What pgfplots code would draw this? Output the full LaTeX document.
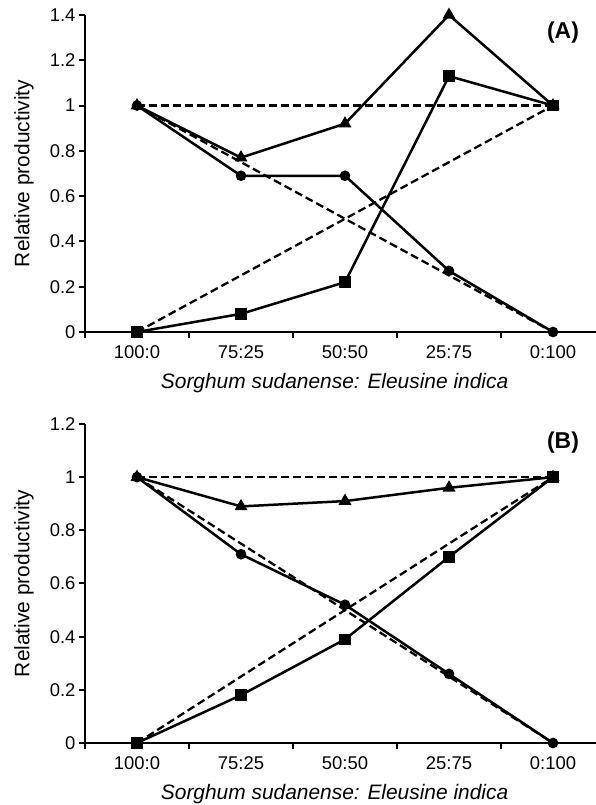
\documentclass[border=0pt]{standalone}
\usepackage{pgfplots}
\pgfplotsset{compat=1.18}
\usepackage{fontspec}
\setmainfont{Liberation Sans}

\pgfplotsset{
  panel/.style={
    scale only axis, width=520bp,
    xmin=-0.5, xmax=4.5, ymin=0,
    axis x line=bottom, axis y line=left,
    axis line style={-, line width=2.5bp},
    tick align=outside,
    major tick length=6bp,
    every tick/.style={black, line width=2bp},
    xtick={-0.5,0.5,1.5,2.5,3.5,4.5},
    x tick label as interval,
    xticklabels={100:0,75:25,50:50,25:75,0:100},
    xticklabel style={yshift=-4bp},
    xlabel={\textit{Sorghum sudanense: Eleusine indica}},
    xlabel style={at={(axis description cs:0.48,0)}, anchor=center, yshift=-51bp},
    ylabel={Relative productivity},
    ylabel style={at={(axis description cs:0,0.5)}, anchor=center, yshift=61bp},
    tick label style={font=\fontsize{18.5}{21}\selectfont},
    label style={font=\fontsize{21}{24}\selectfont},
    /pgf/number format/assume math mode=true,
    clip=false,
  },
  sol/.style={black, line width=2.5bp, solid, mark options={solid, fill=black}},
  ref/.style={black, line width=2.3bp, dash pattern=on 8bp off 4bp, no marks},
}

\begin{document}
\begin{tikzpicture}
\useasboundingbox (0,0) rectangle (596bp,805bp);

% panel A
\begin{axis}[panel, at={(85bp,473bp)}, anchor=south west, height=317bp,
  ymax=1.4, ytick={0,0.2,0.4,0.6,0.8,1,1.2,1.4},
  yticklabels={0,0.2,0.4,0.6,0.8,1,1.2,1.4}]
  \addplot[ref] coordinates {(0,1) (4,1)};
  \addplot[ref] coordinates {(0,1) (4,0)};
  \addplot[ref] coordinates {(0,0) (4,1)};
  \addplot[sol, mark=triangle*, mark size=5bp] coordinates {(0,1) (1,0.77) (2,0.92) (3,1.40) (4,1.0)};
  \addplot[sol, mark=*, mark size=4bp] coordinates {(0,1) (1,0.69) (2,0.69) (3,0.27) (4,0)};
  \addplot[sol, mark=square*, mark size=4.5bp] coordinates {(0,0) (1,0.08) (2,0.22) (3,1.13) (4,1.0)};
\end{axis}
\node[font=\bfseries\fontsize{23}{26}\selectfont] at (563bp,772bp) {(A)};

% panel B
\begin{axis}[panel, at={(85bp,62bp)}, anchor=south west, height=319bp,
  ymax=1.2, ytick={0,0.2,0.4,0.6,0.8,1,1.2},
  yticklabels={0,0.2,0.4,0.6,0.8,1,1.2}]
  \addplot[ref] coordinates {(0,1) (4,1)};
  \addplot[ref] coordinates {(0,1) (4,0)};
  \addplot[ref] coordinates {(0,0) (4,1)};
  \addplot[sol, mark=triangle*, mark size=5bp] coordinates {(0,1) (1,0.89) (2,0.91) (3,0.96) (4,1.0)};
  \addplot[sol, mark=*, mark size=4bp] coordinates {(0,1) (1,0.71) (2,0.52) (3,0.26) (4,0)};
  \addplot[sol, mark=square*, mark size=4.5bp] coordinates {(0,0) (1,0.18) (2,0.39) (3,0.70) (4,1.0)};
\end{axis}
\node[font=\bfseries\fontsize{23}{26}\selectfont] at (563bp,362bp) {(B)};
\end{tikzpicture}
\end{document}
